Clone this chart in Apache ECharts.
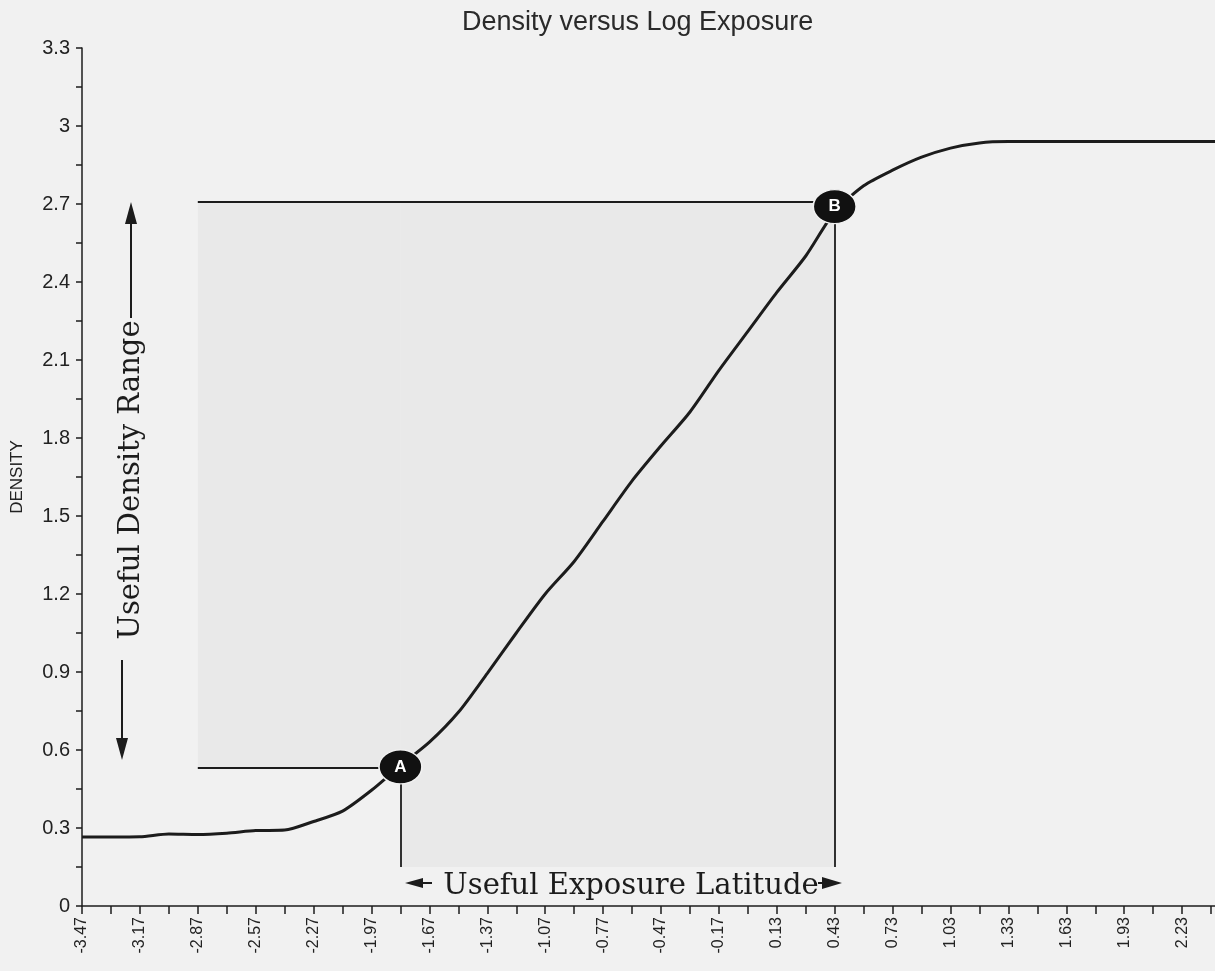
<!DOCTYPE html>
<html>
<head>
<meta charset="utf-8">
<script src="https://cdn.jsdelivr.net/npm/echarts@6/dist/echarts.min.js"></script>
<style>
  html, body { margin: 0; padding: 0; background: #f1f1f1; }
  #main { width: 1215px; height: 971px; }
</style>
</head>
<body>
<div id="main"></div>
<script>
// log exposure categories (every 0.15), labels shown every other one
const logExposure = ['-3.47', '-3.32', '-3.17', '-3.02', '-2.87', '-2.72', '-2.57', '-2.42', '-2.27', '-2.12',
  '-1.97', '-1.82', '-1.67', '-1.52', '-1.37', '-1.22', '-1.07', '-0.92', '-0.77', '-0.62',
  '-0.47', '-0.32', '-0.17', '-0.02', '0.13', '0.28', '0.43', '0.58', '0.73', '0.88',
  '1.03', '1.18', '1.33', '1.48', '1.63', '1.78', '1.93', '2.08', '2.23', '2.38', '2.53']
const density = [0.265, 0.265, 0.266, 0.277, 0.275, 0.28, 0.29, 0.292, 0.325, 0.365,
  0.445, 0.54, 0.63, 0.745, 0.895, 1.05, 1.2, 1.325, 1.48, 1.635,
  1.77, 1.9, 2.06, 2.21, 2.36, 2.5, 2.67, 2.77, 2.83, 2.88,
  2.915, 2.935, 2.94, 2.94, 2.94, 2.94, 2.94, 2.94, 2.94, 2.94, 2.94]

// points A and B, and the useful range box
const pointA = ['-1.82', 0.535]
const pointB = ['0.43', 2.69]
const rangeLeft = '-2.87'
const rangeTop = 2.71
const rangeLowA = 0.53
const rangeBottom = 0.15

const myChart = echarts.init(document.getElementById('main'))
const ink = '#1c1c1c'
const serif = 'DejaVu Serif'

function arrowHead (tx, ty, dir, len, half) {
  // triangle with its tip at tx,ty
  let pts
  if (dir === 'up') pts = [[tx, ty], [tx - half, ty + len], [tx + half, ty + len]]
  else if (dir === 'down') pts = [[tx, ty], [tx - half, ty - len], [tx + half, ty - len]]
  else if (dir === 'left') pts = [[tx, ty], [tx + len, ty - half], [tx + len, ty + half]]
  else pts = [[tx, ty], [tx - len, ty - half], [tx - len, ty + half]]
  return { type: 'polygon', shape: { points: pts }, style: { fill: ink }, z: 100 }
}
function shaft (x1, y1, x2, y2) {
  return { type: 'line', shape: { x1: x1, y1: y1, x2: x2, y2: y2 }, style: { stroke: ink, lineWidth: 2 }, z: 100 }
}

const option = {
  backgroundColor: '#f1f1f1',
  animation: false,
  title: {
    text: 'Density versus Log Exposure',
    left: 457,
    top: 4,
    textStyle: { fontFamily: 'Liberation Sans', fontSize: 27, fontWeight: 'normal', color: '#2a2a2a' }
  },
  grid: { left: 82, top: 48, bottom: 65, width: 1158, outerBoundsMode: 'none', containLabel: false },
  xAxis: {
    type: 'category',
    boundaryGap: false,
    data: logExposure,
    axisLine: { lineStyle: { color: ink, width: 1.5 } },
    axisTick: { interval: 0, length: 8, lineStyle: { color: ink, width: 1.5 } },
    axisLabel: { interval: 1, rotate: 90, margin: 11, fontFamily: 'Liberation Sans', fontSize: 16, color: '#222' },
    splitLine: { show: false }
  },
  yAxis: {
    type: 'value',
    min: 0,
    max: 3.3,
    interval: 0.15,
    name: 'DENSITY',
    nameLocation: 'middle',
    nameRotate: 90,
    nameGap: 56,
    nameTextStyle: { fontFamily: 'Liberation Sans', fontSize: 17, color: '#222' },
    axisLine: { show: true, lineStyle: { color: ink, width: 1.5 } },
    axisTick: { show: true, length: 6, lineStyle: { color: ink, width: 1.5 } },
    axisLabel: {
      margin: 12,
      fontFamily: 'Liberation Sans',
      fontSize: 20,
      color: '#222',
      formatter: function (v) {
        return Math.round(v / 0.15) % 2 === 0 ? String(parseFloat(v.toFixed(1))) : ''
      }
    },
    splitLine: { show: false }
  },
  series: [
    {
      type: 'line',
      data: density,
      smooth: 0.25,
      symbol: 'none',
      lineStyle: { color: ink, width: 3 },
      z: 2,
      markArea: {
        silent: true,
        itemStyle: { color: 'rgba(0,0,0,0.03)' },
        data: [
          [{ xAxis: rangeLeft, yAxis: rangeTop }, { xAxis: pointA[0], yAxis: rangeLowA }],
          [{ xAxis: pointA[0], yAxis: rangeTop }, { xAxis: pointB[0], yAxis: rangeBottom }]
        ]
      },
      markLine: {
        silent: true,
        symbol: 'none',
        label: { show: false },
        lineStyle: { color: ink, width: 1.8, type: 'solid' },
        data: [
          [{ coord: [rangeLeft, rangeTop] }, { coord: [pointB[0], rangeTop] }],
          [{ coord: [rangeLeft, rangeLowA] }, { coord: [pointA[0], rangeLowA] }],
          [{ coord: [pointA[0], rangeLowA] }, { coord: [pointA[0], rangeBottom] }],
          [{ coord: [pointB[0], pointB[1]] }, { coord: [pointB[0], rangeBottom] }]
        ]
      },
      markPoint: {
        silent: true,
        z: 20,
        symbol: 'circle',
        symbolSize: [43, 34],
        itemStyle: { color: '#111', borderColor: '#f1f1f1', borderWidth: 1.5 },
        label: { show: true, position: 'inside', color: '#fff', fontFamily: 'Liberation Sans', fontWeight: 'bold', fontSize: 17 },
        data: [
          { coord: pointA, value: 'A' },
          { coord: pointB, value: 'B' }
        ]
      }
    }
  ],
  graphic: [
    {
      type: 'text',
      x: 131,
      y: 480,
      rotation: Math.PI / 2,
      style: { text: 'Useful Density Range', font: '29px "' + serif + '"', fill: ink, align: 'center', verticalAlign: 'middle' },
      z: 100
    },
    shaft(131, 318, 131, 215),
    arrowHead(131, 202, 'up', 22, 6),
    shaft(122, 660, 122, 745),
    arrowHead(122, 760, 'down', 22, 6),
    {
      type: 'text',
      x: 631,
      y: 886,
      style: { text: 'Useful Exposure Latitude', font: '29px "' + serif + '"', fill: ink, align: 'center', verticalAlign: 'middle' },
      z: 100
    },
    shaft(420, 883, 432, 883),
    arrowHead(405, 883, 'left', 18, 5),
    shaft(818, 883, 825, 883),
    arrowHead(842, 883, 'right', 20, 6)
  ]
}
myChart.setOption(option)
</script>
</body>
</html>
